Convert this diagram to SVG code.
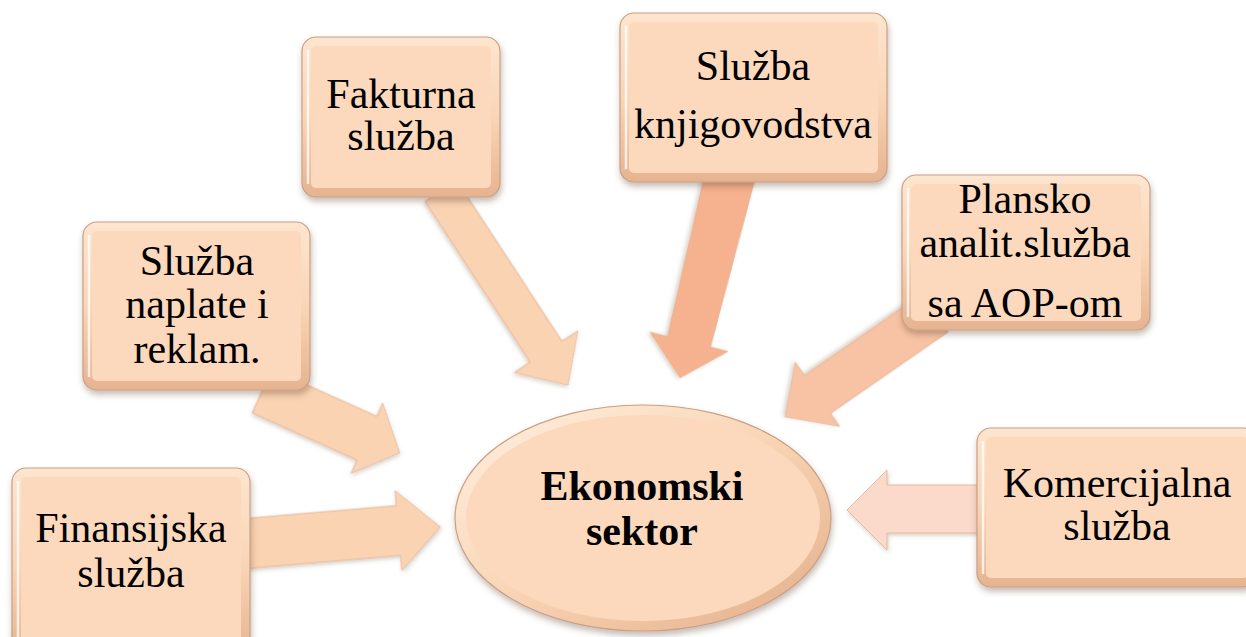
<svg xmlns="http://www.w3.org/2000/svg" width="1246" height="637" viewBox="0 0 1246 637">
  <defs>
    <filter id="shadow" x="-10%" y="-10%" width="125%" height="130%">
      <feDropShadow dx="1" dy="4" stdDeviation="3" flood-color="#5a3a25" flood-opacity="0.35"/>
    </filter>
    <filter id="ashadow" x="-10%" y="-10%" width="125%" height="130%">
      <feDropShadow dx="1" dy="2" stdDeviation="2" flood-color="#5a3a25" flood-opacity="0.25"/>
    </filter>
    <linearGradient id="bevel" x1="0" y1="0" x2="0" y2="1">
      <stop offset="0" stop-color="#fde5cf"/>
      <stop offset="0.5" stop-color="#f9d5b6"/>
      <stop offset="1" stop-color="#e6b390"/>
    </linearGradient>
    <linearGradient id="ebevel" x1="0" y1="0" x2="1" y2="1">
      <stop offset="0" stop-color="#fff1e2"/>
      <stop offset="0.5" stop-color="#f9d4b4"/>
      <stop offset="1" stop-color="#e2ad88"/>
    </linearGradient>
    <style>
      .box { fill: url(#bevel); stroke: #caa085; stroke-width: 1.2; filter: url(#shadow); }
      .face { fill: #fcd9bc; }
      .hl { fill: none; stroke: #ffffff; stroke-opacity: 0.75; stroke-width: 2.5; }
      .lbl { font-family: "Liberation Serif", "Times New Roman", serif; font-size: 42px; fill: #000; text-anchor: middle; }
      .bold { font-weight: bold; }
      .arrow { stroke: #e2b091; stroke-width: 0.8; filter: url(#ashadow); }
      .a-light { fill: #fad3b2; }
      .a-dark { fill: #f6b28e; }
      .a-mid { fill: #f8c3a4; }
      .a-pink { fill: #fbd9cb; }
    </style>
  </defs>

  <g id="connectors">
    <path class="arrow a-light" transform="translate(441,191) rotate(56.8)" d="M0,-19 L192,-19 L192,-38 L232,0 L192,38 L192,19 L0,19 Z"/>
    <path class="arrow a-dark" transform="translate(731,172) rotate(103.9)" d="M0,-25 L175,-22 L175,-40 L212,0 L175,40 L175,22 L0,25 Z"/>
    <path class="arrow a-mid" transform="translate(935,313) rotate(145.3)" d="M0,-23 L143,-23 L143,-39 L182.5,0 L143,39 L143,23 L0,23 Z"/>
    <path class="arrow a-pink" d="M995,485 L887,485 L887,470 L847,510 L887,550 L887,533 L995,533 Z"/>
    <path class="arrow a-light" transform="translate(262,391) rotate(24.2)" d="M0,-24 L115,-24 L115,-38.5 L151,0 L115,38.5 L115,24 L0,24 Z"/>
    <path class="arrow a-light" transform="translate(240,544) rotate(-4.86)" d="M0,-25 L159,-25 L159,-40 L201,0 L159,40 L159,25 L0,25 Z"/>
  </g>

  <g id="node-fakturna">
    <rect class="box" x="302" y="37" width="198" height="160" rx="14"/>
    <rect class="face" x="311" y="46" width="180" height="142" rx="5"/>
    <line class="hl" x1="308" y1="50" x2="308" y2="184"/>
    <text class="lbl" x="401" y="108">Fakturna</text>
    <text class="lbl" x="401" y="150">služba</text>
  </g>

  <g id="node-knjigovodstvo">
    <rect class="box" x="620" y="13" width="267" height="169" rx="14"/>
    <rect class="face" x="629" y="22" width="249" height="151" rx="5"/>
    <line class="hl" x1="626" y1="26" x2="626" y2="169"/>
    <text class="lbl" x="753" y="80">Služba</text>
    <text class="lbl" x="753" y="138">knjigovodstva</text>
  </g>

  <g id="node-plansko">
    <rect class="box" x="902" y="175" width="248" height="155" rx="14"/>
    <rect class="face" x="911" y="184" width="230" height="137" rx="5"/>
    <line class="hl" x1="908" y1="188" x2="908" y2="317"/>
    <text class="lbl" x="1025" y="213">Plansko</text>
    <text class="lbl" x="1025" y="257">analit.služba</text>
    <text class="lbl" x="1025" y="317">sa AOP-om</text>
  </g>

  <g id="node-komercijalna">
    <rect class="box" x="977" y="428" width="280" height="159" rx="14"/>
    <rect class="face" x="986" y="437" width="262" height="141" rx="5"/>
    <line class="hl" x1="983" y1="441" x2="983" y2="574"/>
    <text class="lbl" x="1117" y="497">Komercijalna</text>
    <text class="lbl" x="1117" y="540">služba</text>
  </g>

  <g id="node-naplata">
    <rect class="box" x="83" y="222" width="227" height="168" rx="14"/>
    <rect class="face" x="92" y="231" width="209" height="150" rx="5"/>
    <line class="hl" x1="89" y1="235" x2="89" y2="377"/>
    <text class="lbl" x="197" y="275">Služba</text>
    <text class="lbl" x="197" y="318">naplate i</text>
    <text class="lbl" x="197" y="363">reklam.</text>
  </g>

  <g id="node-finansijska">
    <rect class="box" x="12" y="468" width="238" height="190" rx="14"/>
    <rect class="face" x="21" y="477" width="220" height="172" rx="5"/>
    <line class="hl" x1="18" y1="481" x2="18" y2="637"/>
    <text class="lbl" x="131" y="542">Finansijska</text>
    <text class="lbl" x="131" y="587">služba</text>
  </g>

  <g id="node-ekonomski">
    <ellipse cx="643" cy="518" rx="188" ry="113" fill="url(#ebevel)" stroke="#caa085" stroke-width="1.2" filter="url(#shadow)"/>
    <ellipse cx="643" cy="518" rx="177" ry="103" fill="#fcd9bc"/>
    <text class="lbl bold" x="642" y="500">Ekonomski</text>
    <text class="lbl bold" x="642" y="545">sektor</text>
  </g>
</svg>
